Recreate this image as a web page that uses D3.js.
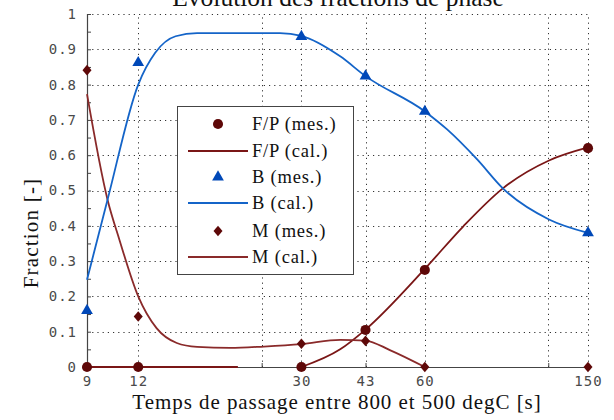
<!DOCTYPE html>
<html><head><meta charset="utf-8">
<script src="https://cdn.jsdelivr.net/npm/d3@7"></script>
<style>body{margin:0;background:#fff}svg{display:block}</style>
</head><body><svg id="c" width="614" height="420"></svg>
<script>
// ---- data ----
const times = [9, 12, 30, 43, 60, 150];
const xTicks = [9, 12, 24, 30, 43, 60, 120, 150];
const xTickLabels = ["9", "12", "", "30", "43", "60", "", "150"];
const yTicks = [0, 0.1, 0.2, 0.3, 0.4, 0.5, 0.6, 0.7, 0.8, 0.9, 1];
const yTickLabels = ["0", "0.1", "0.2", "0.3", "0.4", "0.5", "0.6", "0.7", "0.8", "0.9", "1"];
const fpMes = [0, 0, 0, 0.105, 0.275, 0.62];
const bMes = [0.16, 0.862, 0.936, 0.824, 0.724, 0.38];
const mMes = [0.841, 0.143, 0.066, 0.074, 0, 0];
const fpCalA_t = [9, 21];
const fpCalA_v = [0, 0];
const fpCalB_t = [30, 37.3, 43, 60, 74.4, 93, 120.5, 150];
const fpCalB_v = [0, 0.05, 0.106, 0.278, 0.398, 0.506, 0.585, 0.622];
const bCal_t = [9, 10.1, 12, 13.2, 14.8, 16.7, 26.6, 30, 37.3, 43, 60, 68, 80.5, 93, 120.5, 150];
const bCal_v = [0.247, 0.474, 0.80, 0.89, 0.937, 0.946, 0.946, 0.938, 0.88, 0.824, 0.724, 0.673, 0.588, 0.506, 0.418, 0.38];
const mCal_t = [9, 10.1, 10.8, 12, 13.3, 14.9, 16.7, 20.1, 24.3, 30, 37.3, 43, 49.3, 60];
const mCal_v = [0.773, 0.474, 0.36, 0.20, 0.11, 0.068, 0.057, 0.054, 0.058, 0.065, 0.077, 0.075, 0.048, 0];
const legendLabels = ["F/P (mes.)", "F/P (cal.)", "B (mes.)", "B (cal.)", "M (mes.)", "M (cal.)"];
const titleText = "Evolution des fractions de phase";
const xLabel = "Temps de passage entre 800 et 500 degC [s]";
const yLabel = "Fraction [-]";

// ---- drawing ----
const svg = d3.select("#c");
const L = 87, R = 588, T = 14, B = 367;
const x = d3.scaleLog().domain([9, 150]).range([L, R]);
const y = d3.scaleLinear().domain([0, 1]).range([B, T]);
const cMark = "#5e0808", cFP = "#7a1616", cM = "#8a2a2a", cBm = "#0048b8", cB = "#1464c8";
const serif = "'Liberation Serif', 'Times New Roman', serif";
const mono = "'DejaVu Sans Mono', monospace";

// grid
const grid = svg.append("g").attr("stroke", "#333").attr("stroke-width", 1).attr("stroke-dasharray", "1.2,4");
xTicks.filter(t => t !== 9).forEach(t => {
  grid.append("line").attr("x1", Math.round(x(t)) + 0.5).attr("x2", Math.round(x(t)) + 0.5).attr("y1", B).attr("y2", T);
});
yTicks.filter(t => t !== 0).forEach(t => {
  grid.append("line").attr("x1", L).attr("x2", R).attr("y1", Math.round(y(t)) + 0.5).attr("y2", Math.round(y(t)) + 0.5);
});

// axes
const yAxis = d3.axisLeft(y).tickValues(d3.range(0, 1.0001, 0.05)).tickSize(-4)
  .tickFormat(d => { const i = yTicks.findIndex(v => Math.abs(v - d) < 1e-6); return i >= 0 ? yTickLabels[i] : ""; })
  .tickPadding(10);
const gy = svg.append("g").attr("transform", `translate(${L},0)`).call(yAxis);
const xAxis = d3.axisBottom(x).tickValues(xTicks).tickSize(-4).tickFormat((d, i) => xTickLabels[i]).tickPadding(9);
const gx = svg.append("g").attr("transform", `translate(0,${B})`).call(xAxis);
[gx, gy].forEach(g => {
  g.select(".domain").attr("stroke", "#444").attr("stroke-width", 1.2);
  g.selectAll(".tick line").attr("stroke", "#444");
  g.selectAll("text").attr("font-family", mono).attr("font-size", 14).attr("fill", "#4a4a4a").attr("letter-spacing", 1);
});
gy.select(".domain").attr("d", `M0.5,${B}V${T}`);
gx.select(".domain").attr("d", `M${L},0.5H${R}`);

// lines
const pts = (ts, vs) => ts.map((t, i) => [x(t), y(vs[i])]);
const line = d3.line().curve(d3.curveMonotoneX);
const lines = svg.append("g").attr("fill", "none").attr("stroke-width", 1.8);
lines.append("path").attr("d", line(pts(fpCalA_t, fpCalA_v))).attr("stroke", cFP);
lines.append("path").attr("d", line(pts(fpCalB_t, fpCalB_v))).attr("stroke", cFP);
lines.append("path").attr("d", line(pts(mCal_t, mCal_v))).attr("stroke", cM);
lines.append("path").attr("d", line(pts(bCal_t, bCal_v))).attr("stroke", cB);

// markers
const wideDiamond = { draw(ctx, size) { const h = Math.sqrt(size) * 0.75, w = h * 0.85;
  ctx.moveTo(0, -h); ctx.lineTo(w, 0); ctx.lineTo(0, h); ctx.lineTo(-w, 0); ctx.closePath(); } };
const circ = d3.symbol().type(d3.symbolCircle).size(80);
const tri = d3.symbol().type(d3.symbolTriangle).size(60);
const dia = d3.symbol().type(wideDiamond).size(50);
const mk = svg.append("g");
times.forEach((t, i) => {
  mk.append("path").attr("d", circ()).attr("transform", `translate(${x(t)},${y(fpMes[i])})`).attr("fill", cMark);
  mk.append("path").attr("d", tri()).attr("transform", `translate(${x(t)},${y(bMes[i])})`).attr("fill", cBm);
  mk.append("path").attr("d", dia()).attr("transform", `translate(${x(t)},${y(mMes[i])})`).attr("fill", cMark);
});

// legend
const lg = svg.append("g");
lg.append("rect").attr("x", 177.5).attr("y", 106.5).attr("width", 176).attr("height", 168)
  .attr("fill", "#fff").attr("stroke", "#444").attr("stroke-width", 1);
const ly = [124, 151, 177, 203, 231, 257];
const kinds = [["m", circ, cMark], ["l", null, cFP], ["m", tri, cBm], ["l", null, cB], ["m", dia, cMark], ["l", null, cM]];
kinds.forEach((k, i) => {
  if (k[0] === "m") lg.append("path").attr("d", k[1]()).attr("transform", `translate(218,${ly[i]})`).attr("fill", k[2]);
  else lg.append("line").attr("x1", 188).attr("x2", 248).attr("y1", ly[i]).attr("y2", ly[i]).attr("stroke", k[2]).attr("stroke-width", 1.8);
  lg.append("text").attr("x", 252).attr("y", ly[i] + 6).text(legendLabels[i])
    .attr("font-family", serif).attr("font-size", 18.5).attr("letter-spacing", 0.8).attr("fill", "#111");
});

// texts
svg.append("text").attr("x", 338).attr("y", 6).attr("text-anchor", "middle").text(titleText)
  .attr("font-family", serif).attr("font-size", 25.5).attr("fill", "#111");
svg.append("text").attr("x", 337).attr("y", 409).attr("text-anchor", "middle").text(xLabel)
  .attr("font-family", serif).attr("font-size", 21).attr("letter-spacing", 0.95).attr("fill", "#111");
svg.append("text").attr("transform", "translate(38,233) rotate(-90)").attr("text-anchor", "middle").text(yLabel)
  .attr("font-family", serif).attr("font-size", 21).attr("letter-spacing", 1.2).attr("fill", "#111");
</script></body></html>
